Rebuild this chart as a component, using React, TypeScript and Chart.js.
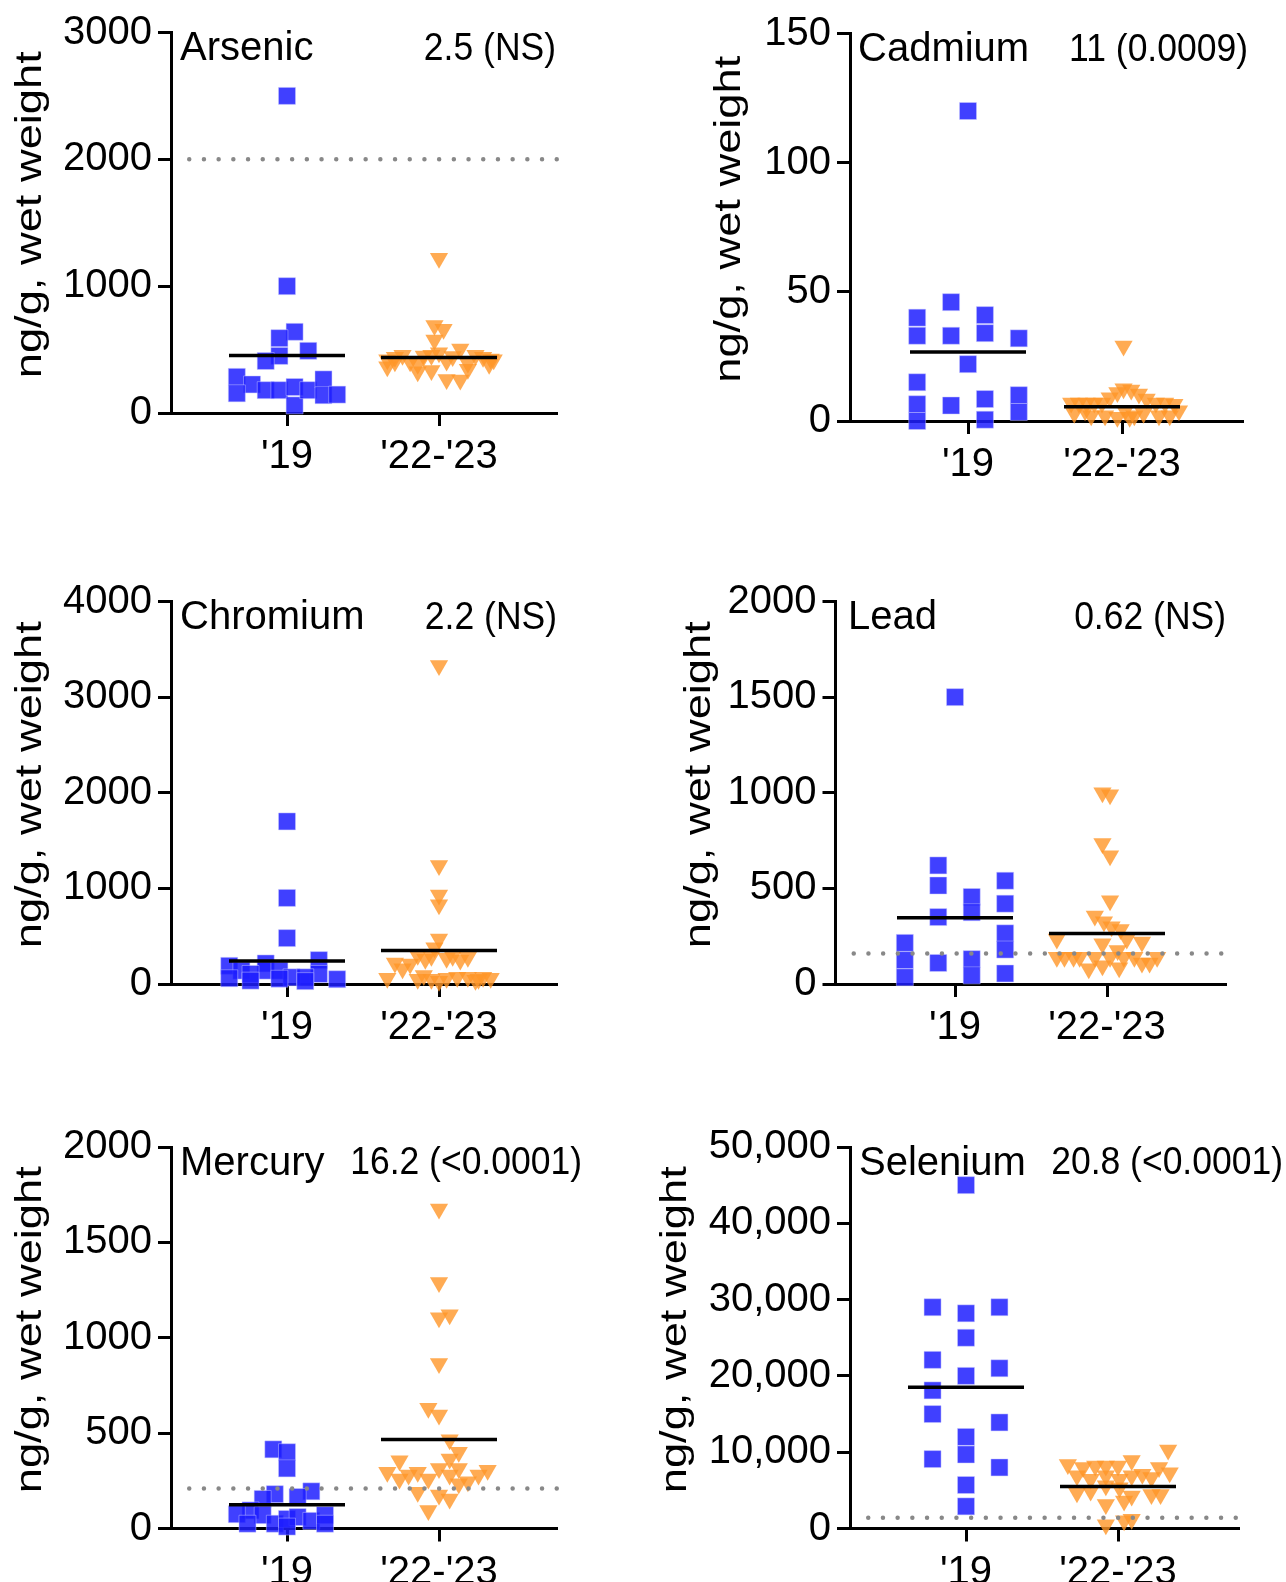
import React, { useEffect, useRef } from 'react';
import { Chart, registerables } from 'chart.js';

Chart.register(...registerables);

const categories = ["'19", "'22-'23"];
const yTitle = 'ng/g, wet weight';
const FONT = '"Liberation Sans", Arial, Helvetica, sans-serif';

// ---------- Arsenic ----------
const arsenic19 = [2500, 1000, 640, 590, 490, 450, 410, 285, 225, 155, 180, 180, 205, 60, 180, 265, 140, 145];
const arsenic19Jitter = [0, 0, 0.05, -0.05, 0.14, -0.05, -0.14, -0.33, -0.23, -0.33, -0.14, -0.05, 0.05, 0.05, 0.14, 0.24, 0.24, 0.33];
const arsenic22 = [1220, 690, 660, 575, 505, 475, 455, 455, 440, 420, 450, 455, 445, 440, 425, 405, 385, 410, 395, 420, 405, 325, 335, 265, 260, 345, 365, 385];
const arsenic22Jitter = [0, -0.03, 0.03, -0.03, 0.14, 0, -0.24, 0.24, -0.29, -0.34, -0.1, -0.05, 0.09, 0.29, 0.34, -0.19, -0.14, 0.05, 0.19, 0.36, -0.29, -0.14, -0.05, 0.05, 0.14, 0.19, -0.34, 0.33];
const arsenicMeans = [453, 437];
const arsenicTicks = [0, 1000, 2000, 3000];
const arsenicRef = 2000;

// ---------- Cadmium ----------
const cadmium19 = [120, 40, 46, 41, 33, 33, 34, 32, 22, 15, 6.5, 6, 8.5, 10, 3.5, 0, 0.5];
const cadmium19Jitter = [0, -0.33, -0.11, 0.11, -0.33, -0.11, 0.11, 0.33, 0, -0.33, -0.33, -0.11, 0.11, 0.33, 0.33, -0.33, 0.11];
const cadmium22 = [29, 12.5, 12, 11, 10.5, 9, 8.5, 7, 7, 7, 7, 7, 7, 7, 6.5, 3, 2, 2, 1.5, 1.5, 2, 3, 2, 2, 4, 4, 4];
const cadmium22Jitter = [0.01, 0.01, 0.06, -0.03, 0.11, -0.08, 0.16, -0.33, -0.28, -0.23, -0.18, -0.13, 0.22, 0.28, 0.34, -0.31, -0.2, -0.11, -0.03, 0.05, 0.08, 0.14, 0.24, 0.31, 0.37, 0.02, -0.24];
const cadmiumMeans = [26.7, 5.5];
const cadmiumTicks = [0, 50, 100, 150];

// ---------- Chromium ----------
const chromium19 = [1700, 900, 480, 250, 215, 190, 140, 140, 140, 105, 105, 70, 70, 60, 55, 50, 35, 30];
const chromium19Jitter = [0, 0, 0, 0.21, -0.14, -0.38, -0.3, -0.14, -0.05, -0.24, 0.21, 0.03, 0.12, -0.38, -0.05, 0.33, -0.24, 0.12];
const chromium22 = [3330, 1240, 930, 830, 470, 380, 300, 290, 290, 280, 260, 220, 210, 160, 270, 250, 60, 50, 50, 60, 70, 70, 50, 60, 90, 70, 40, 30];
const chromium22Jitter = [0, 0, 0, 0, 0, -0.03, -0.14, -0.05, 0.09, 0.19, -0.09, -0.29, -0.19, -0.24, 0.05, 0.14, -0.34, -0.14, -0.05, 0.05, 0.12, 0.19, 0.26, 0.34, -0.1, 0.29, 0.24, 0];
const chromiumMeans = [240, 350];
const chromiumTicks = [0, 1000, 2000, 3000, 4000];

// ---------- Lead ----------
const lead19 = [1500, 620, 515, 350, 110, 455, 375, 130, 45, 540, 420, 265, 180, 55, 215, 125, 35];
const lead19Jitter = [0, -0.11, -0.11, -0.11, -0.11, 0.11, 0.11, 0.11, 0.11, 0.33, 0.33, 0.33, 0.33, 0.33, -0.33, -0.33, -0.33];
const lead22 = [1000, 990, 735, 670, 435, 355, 325, 300, 285, 235, 235, 220, 210, 175, 140, 140, 140, 140, 140, 140, 140, 140, 140, 110, 110, 80, 95, 85];
const lead22Jitter = [-0.03, 0.02, -0.03, 0.02, 0.02, -0.08, -0.02, 0.03, 0.09, -0.33, 0.13, 0.23, -0.03, 0.07, -0.33, -0.28, -0.22, -0.18, -0.08, 0.02, 0.11, 0.18, 0.33, 0.23, 0.28, -0.12, -0.03, 0.08];
const leadMeans = [347, 264];
const leadTicks = [0, 500, 1000, 1500, 2000];
const leadRef = 160;

// ---------- Mercury ----------
const mercury19 = [415, 400, 315, 195, 180, 165, 155, 95, 75, 70, 25, 50, 60, 40, 70, 25, 25, 10];
const mercury19Jitter = [-0.09, 0, 0, 0.16, -0.08, 0.07, -0.16, -0.24, -0.33, -0.16, -0.08, 0, 0.07, 0.16, 0.25, -0.26, 0.25, 0];
const mercury22 = [1675, 1290, 1105, 1120, 865, 630, 595, 465, 400, 365, 355, 315, 315, 305, 295, 295, 280, 280, 280, 260, 260, 245, 235, 190, 175, 155, 95];
const mercury22Jitter = [0, 0, 0, 0.07, 0, -0.07, 0, 0.07, 0.13, 0.07, -0.26, 0, 0.13, 0.32, -0.34, -0.14, -0.2, 0.07, 0.26, -0.26, -0.07, 0.19, 0.13, -0.14, 0, 0.07, -0.07];
const mercuryMeans = [125, 467];
const mercuryTicks = [0, 500, 1000, 1500, 2000];
const mercuryRef = 210;

// ---------- Selenium ----------
const selenium19 = [45000, 29000, 28200, 29000, 25000, 22100, 21000, 20000, 18100, 15000, 13900, 12000, 9700, 9100, 8000, 5700, 2900];
const selenium19Jitter = [0, -0.22, 0, 0.22, 0, -0.22, 0.22, 0, -0.22, -0.22, 0.22, 0, 0, -0.22, 0.22, 0, 0];
const selenium22 = [10300, 8900, 8400, 8000, 8200, 8200, 8200, 8000, 7300, 7100, 6900, 6450, 6900, 6450, 6900, 6700, 4700, 4900, 5600, 5350, 4250, 4450, 4450, 3150, 3600, 500, 1000, 1200];
const selenium22Jitter = [0.33, 0.09, -0.33, -0.23, -0.15, -0.08, 0, 0.27, 0.34, 0.16, -0.27, -0.18, -0.08, 0.01, 0.09, 0.22, -0.27, -0.18, -0.08, 0.01, 0.09, 0.22, 0.28, -0.08, 0.04, -0.08, 0.04, 0.09];
const seleniumMeans = [18500, 5500];
const seleniumTicks = [0, 10000, 20000, 30000, 40000, 50000];
const seleniumRef = 1400;

type Panel = {
  name: string; stat: string;
  v19: number[]; j19: number[]; v22: number[]; j22: number[];
  means: number[]; ticks: number[]; ref: number | null; comma: boolean;
  L: number; T: number; R: number; B: number; c1: number; c2: number;
  canvasLeft: number; canvasRight: number; nameLeft: number; statRight: number; titleX: number;
};

const panels: Panel[] = [
  { name: 'Arsenic', stat: '2.5 (NS)', v19: arsenic19, j19: arsenic19Jitter, v22: arsenic22, j22: arsenic22Jitter, means: arsenicMeans, ticks: arsenicTicks, ref: arsenicRef, comma: false,
    L: 171, T: 32.5, R: 557, B: 413, c1: 287, c2: 439, canvasLeft: 0, canvasRight: 620, nameLeft: 180, statRight: 556, titleX: 32 },
  { name: 'Cadmium', stat: '11 (0.0009)', v19: cadmium19, j19: cadmium19Jitter, v22: cadmium22, j22: cadmium22Jitter, means: cadmiumMeans, ticks: cadmiumTicks, ref: null, comma: false,
    L: 850, T: 33.5, R: 1243, B: 421, c1: 968, c2: 1122, canvasLeft: 700, canvasRight: 1286, nameLeft: 858, statRight: 1248, titleX: 731 },
  { name: 'Chromium', stat: '2.2 (NS)', v19: chromium19, j19: chromium19Jitter, v22: chromium22, j22: chromium22Jitter, means: chromiumMeans, ticks: chromiumTicks, ref: null, comma: false,
    L: 171, T: 601.5, R: 557, B: 984, c1: 287, c2: 439, canvasLeft: 0, canvasRight: 620, nameLeft: 180, statRight: 557, titleX: 32 },
  { name: 'Lead', stat: '0.62 (NS)', v19: lead19, j19: lead19Jitter, v22: lead22, j22: lead22Jitter, means: leadMeans, ticks: leadTicks, ref: leadRef, comma: false,
    L: 835.5, T: 601.5, R: 1226, B: 984, c1: 955, c2: 1107, canvasLeft: 670, canvasRight: 1286, nameLeft: 848, statRight: 1226, titleX: 701 },
  { name: 'Mercury', stat: '16.2 (<0.0001)', v19: mercury19, j19: mercury19Jitter, v22: mercury22, j22: mercury22Jitter, means: mercuryMeans, ticks: mercuryTicks, ref: mercuryRef, comma: false,
    L: 171, T: 1147, R: 557, B: 1528.5, c1: 287, c2: 439, canvasLeft: 0, canvasRight: 620, nameLeft: 180, statRight: 582, titleX: 32 },
  { name: 'Selenium', stat: '20.8 (<0.0001)', v19: selenium19, j19: selenium19Jitter, v22: selenium22, j22: selenium22Jitter, means: seleniumMeans, ticks: seleniumTicks, ref: seleniumRef, comma: true,
    L: 850, T: 1147, R: 1239, B: 1528.5, c1: 966, c2: 1118, canvasLeft: 645, canvasRight: 1286, nameLeft: 859, statRight: 1283, titleX: 677 },
];

const panelText = {
  id: 'panelText',
  afterDraw(chart: any, _args: any, opts: any) {
    const ctx = chart.ctx;
    const area = chart.chartArea;
    ctx.save();
    ctx.fillStyle = '#000';

    // panel name
    ctx.font = `40px ${FONT}`;
    ctx.textBaseline = 'middle';
    ctx.textAlign = 'left';
    ctx.fillText(opts.name, opts.nameX, opts.y);

    // statistic (slightly condensed type)
    ctx.save();
    ctx.translate(opts.statX, opts.y);
    ctx.scale(0.91, 1);
    ctx.font = `39px ${FONT}`;
    ctx.textAlign = 'right';
    ctx.textBaseline = 'middle';
    ctx.fillText(opts.stat, 0, 0);
    ctx.restore();

    // y-axis title (stretched type)
    const fs = 36.5;
    ctx.save();
    ctx.translate(opts.titleX + 0.26 * fs, (area.top + area.bottom) / 2 - 8);
    ctx.rotate(-Math.PI / 2);
    ctx.scale(1.24, 1);
    ctx.font = `${fs}px ${FONT}`;
    ctx.textAlign = 'center';
    ctx.textBaseline = 'alphabetic';
    ctx.fillText(yTitle, 0, 0);
    ctx.restore();

    ctx.restore();
  },
};

function PanelChart({ p }: { p: Panel }) {
  const ref = useRef<HTMLCanvasElement>(null);
  const canvasTop = Math.floor(p.T - 30);
  const padTop = p.T - canvasTop;
  const canvasBottom = Math.min(Math.ceil(p.B + 75), 1582);
  const width = p.canvasRight - p.canvasLeft;
  const height = canvasBottom - canvasTop;

  useEffect(() => {
    const unit = p.c2 - p.c1;
    const xMin = 1 - (p.c1 - p.L) / unit;
    const xMax = 2 + (p.R - p.c2) / unit;
    const halfMean = 58 / unit;
    const datasets: any[] = [];
    if (p.ref !== null) {
      datasets.push({
        type: 'line', data: [{ x: xMin + 0.12, y: p.ref }, { x: xMax, y: p.ref }],
        borderColor: '#888888', borderWidth: 4.5, borderDash: [0, 14.7], borderCapStyle: 'round',
        pointRadius: 0, order: 0, clip: false,
      });
    }
    p.means.forEach((m, i) => {
      datasets.push({
        type: 'line', data: [{ x: i + 1 - halfMean, y: m }, { x: i + 1 + halfMean, y: m }],
        borderColor: '#000', borderWidth: 3.5, pointRadius: 0, order: 1, clip: false,
      });
    });
    datasets.push({
      type: 'scatter', data: p.v19.map((v, i) => ({ x: 1 + p.j19[i], y: v })),
      pointStyle: 'rect', pointRadius: 12, backgroundColor: 'rgba(30,30,255,0.85)',
      borderColor: 'rgba(200,200,255,0.6)', borderWidth: 0.8, order: 2, clip: false,
    });
    datasets.push({
      type: 'scatter', data: p.v22.map((v, i) => ({ x: 2 + p.j22[i], y: v })),
      pointStyle: 'triangle', rotation: 180, pointRadius: 10.5, backgroundColor: 'rgba(255,150,40,0.8)',
      borderWidth: 0, order: 3, clip: false,
    });

    const yMax = p.ticks[p.ticks.length - 1];
    const chart = new Chart(ref.current as HTMLCanvasElement, {
      type: 'scatter',
      data: { datasets },
      options: {
        responsive: false,
        animation: false,
        events: [],
        devicePixelRatio: 1,
        layout: { padding: { top: padTop, right: p.canvasRight - p.R, left: 0, bottom: 0 } },
        plugins: {
          legend: { display: false },
          tooltip: { enabled: false },
          panelText: {
            name: p.name, stat: p.stat,
            nameX: p.nameLeft - p.canvasLeft, statX: p.statRight - p.canvasLeft,
            titleX: p.titleX - p.canvasLeft,
            y: p.T + 16.5 - canvasTop,
          },
        } as any,
        scales: {
          x: {
            type: 'linear', min: xMin, max: xMax,
            afterBuildTicks: (s: any) => { s.ticks = [{ value: 1 }, { value: 2 }]; },
            afterFit: (s: any) => { s.height = canvasBottom - p.B; },
            ticks: {
              callback: (v: any) => categories[Math.round(Number(v)) - 1],
              font: { size: 40, family: FONT }, color: '#000', padding: 7,
              maxRotation: 0, autoSkip: false,
            },
            grid: { drawOnChartArea: false, drawTicks: true, tickLength: 13, tickWidth: 3, tickColor: '#000', color: '#000' },
            border: { display: true, color: '#000', width: 3 },
          },
          y: {
            type: 'linear', min: 0, max: yMax,
            afterBuildTicks: (s: any) => { s.ticks = p.ticks.map((v) => ({ value: v })); },
            afterFit: (s: any) => { s.width = p.L - p.canvasLeft; },
            ticks: {
              callback: (v: any) => (p.comma ? Number(v).toLocaleString('en-US') : String(v)),
              font: { size: 40, family: FONT }, color: '#000', padding: 6,
            },
            title: { display: false },
            grid: { drawOnChartArea: false, drawTicks: true, tickLength: 13, tickWidth: 3, tickColor: '#000', color: '#000' },
            border: { display: true, color: '#000', width: 3 },
          },
        },
      } as any,
      plugins: [panelText as any],
    });
    return () => chart.destroy();
  }, [p]);

  return (
    <canvas
      ref={ref}
      width={width}
      height={height}
      style={{ position: 'absolute', left: p.canvasLeft, top: canvasTop, width, height }}
    />
  );
}

export default function App() {
  return (
    <div style={{ position: 'absolute', left: 0, top: 0, width: 1286, height: 1582, overflow: 'hidden', background: '#fff' }}>
      {panels.map((p) => (
        <PanelChart key={p.name} p={p} />
      ))}
    </div>
  );
}
